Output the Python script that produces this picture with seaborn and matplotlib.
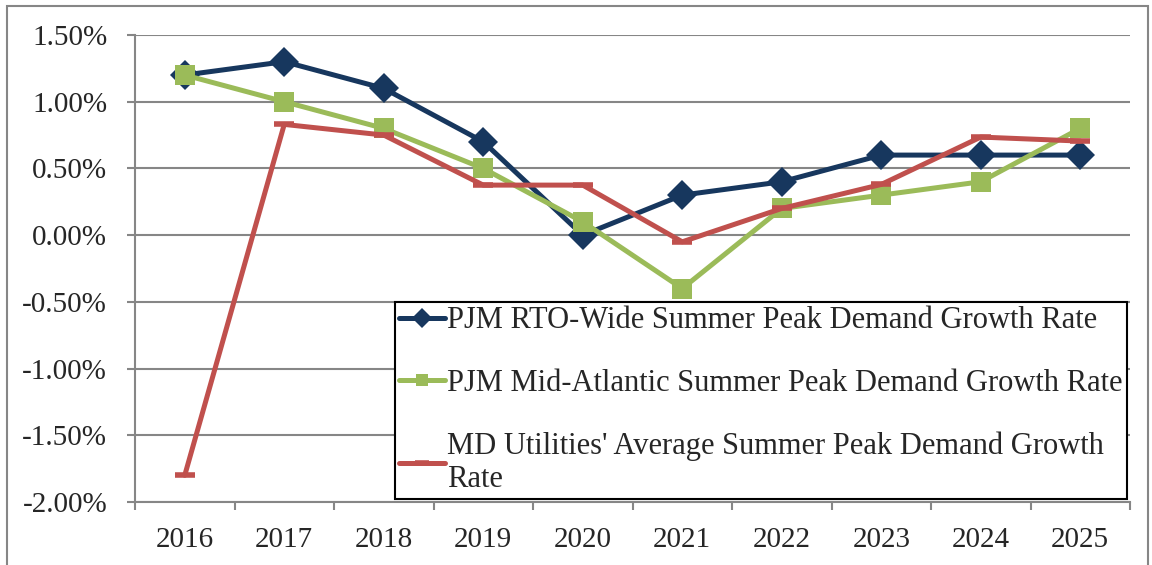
import matplotlib
matplotlib.use("Agg")
import matplotlib.pyplot as plt
import numpy as np
import pandas as pd
import seaborn as sns
from matplotlib.ticker import FixedLocator, NullFormatter, FuncFormatter

years = ["2016", "2017", "2018", "2019", "2020", "2021", "2022", "2023", "2024", "2025"]
rto_wide = [1.2, 1.3, 1.1, 0.7, 0.0, 0.3, 0.4, 0.6, 0.6, 0.6]
mid_atlantic = [1.2, 1.0, 0.8, 0.5, 0.1, -0.4, 0.2, 0.3, 0.4, 0.8]
md_utilities = [-1.8, 0.83, 0.75, 0.375, 0.375, -0.05, 0.2, 0.38, 0.735, 0.705]

names = ["PJM RTO-Wide Summer Peak Demand Growth Rate",
         "PJM Mid-Atlantic Summer Peak Demand Growth Rate",
         "MD Utilities' Average Summer Peak Demand Growth\nRate"]
colors = ["#17375E", "#9BBB59", "#C0504D"]
markers = ["D", "s", "_"]

frames = []
for name, vals in zip(names, [rto_wide, mid_atlantic, md_utilities]):
    frames.append(pd.DataFrame({"x": np.arange(len(years)), "value": vals, "series": name}))
df = pd.concat(frames)

sns.set_style("white")
plt.rcParams["font.family"] = ["Liberation Serif", "DejaVu Serif"]

fig = plt.figure(figsize=(11.52, 5.65), dpi=100)
ax = fig.add_axes([135 / 1152, 63 / 565, 995 / 1152, 467 / 565])

for name, col, mk in zip(names, colors, markers):
    sub = df[df["series"] == name]
    ms = 15 if mk == "D" else (15 if mk == "_" else 14)
    sns.lineplot(data=sub, x="x", y="value", ax=ax, color=col, linewidth=3.6,
                 marker=mk, markersize=ms, markeredgewidth=4 if mk == "_" else 0,
                 markeredgecolor=col, label=name, errorbar=None)

ax.set_xlim(-0.5, len(years) - 0.5)
ax.set_ylim(-2.0, 1.5)
ax.set_yticks(np.arange(-2.0, 1.51, 0.5))
ax.yaxis.set_major_formatter(FuncFormatter(lambda v, p: f"{v:.2f}%"))
ax.xaxis.set_major_locator(FixedLocator(np.arange(-0.5, len(years), 1.0)))
ax.xaxis.set_major_formatter(NullFormatter())
ax.xaxis.set_minor_locator(FixedLocator(np.arange(len(years))))
ax.set_xticklabels(years, minor=True)
ax.tick_params(axis="x", which="major", length=6, width=1.5, color="#868686", direction="out", bottom=True)
ax.tick_params(axis="x", which="minor", length=0, labelsize=21, pad=18)
ax.tick_params(axis="y", length=6, width=1.5, color="#868686", labelsize=21, left=True, pad=14)
ax.grid(axis="y", color="#868686", linewidth=1.5)
ax.set_axisbelow(True)
for s in ["top", "right"]:
    ax.spines[s].set_visible(False)
for s in ["left", "bottom"]:
    ax.spines[s].set_color("#868686")
    ax.spines[s].set_linewidth(1.5)
ax.set_xlabel("")
ax.set_ylabel("")

leg = ax.legend(loc="lower right", bbox_to_anchor=(1.0, 0.0), fontsize=22, frameon=True,
                fancybox=False, edgecolor="black", handlelength=1.5, handletextpad=0.05,
                labelspacing=1.1, borderpad=0.15, borderaxespad=0.1, framealpha=1, markerscale=0.65)
leg.get_frame().set_linewidth(1.5)

fig.patches.append(plt.Rectangle((7 / 1152, -0.1), 1141 / 1152, 1.1 - 6 / 565, transform=fig.transFigure,
                                 fill=False, edgecolor="#868686", linewidth=1.5))

fig.savefig("out.png", dpi=100)
